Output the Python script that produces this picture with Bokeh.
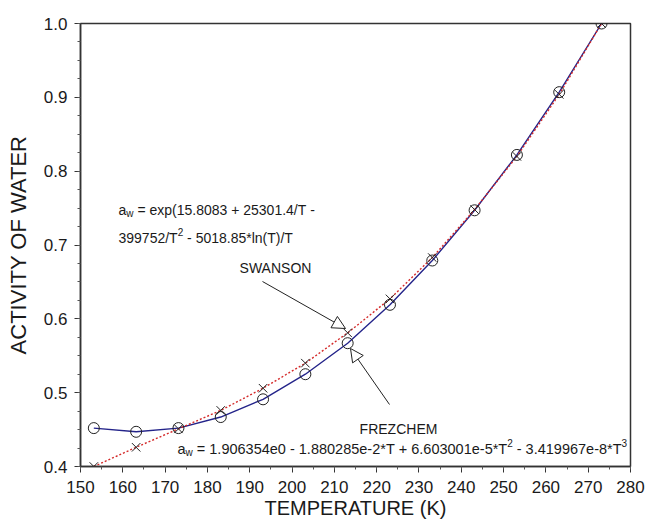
from bokeh.plotting import figure
from bokeh.models import (Label, Arrow, NormalHead, SingleIntervalTicker,
                          Range1d, PrintfTickFormatter)
from bokeh.embed import file_html
from bokeh.resources import INLINE

# ---- data ----
temps = [153.15, 163.15, 173.15, 183.15, 193.15, 203.15, 213.15,
         223.15, 233.15, 243.15, 253.15, 263.15, 273.15]
frezchem = [0.452, 0.447, 0.452, 0.467, 0.491, 0.525, 0.567,
            0.619, 0.679, 0.747, 0.822, 0.907, 1.000]
swanson = [0.400, 0.426, 0.451, 0.476, 0.506, 0.540, 0.581,
           0.627, 0.683, 0.748, 0.820, 0.904, 1.000]
x_ticks = [150, 160, 170, 180, 190, 200, 210, 220, 230, 240, 250, 260, 270, 280]

FONT = "Liberation Sans"
TXT = "#1a1a1a"
NB = "\u00a0"

FIG_W, FIG_H = 647, 525
# frame placement (page pixels) used for annotation placement
FL, FR, FT, FB = 80, 630, 23, 466
X0, X1, Y0, Y1 = 150, 280, 0.4, 1.0


def dx(px):
    return X0 + (px - FL) * (X1 - X0) / (FR - FL)


def dy(py):
    return Y0 + (FB - py) * (Y1 - Y0) / (FB - FT)


W = {' ': 278, '=': 584, 'e': 556, 'x': 500, 'p': 556, '(': 333, ')': 333,
     '.': 278, '+': 584, '/': 278, 'T': 611, '-': 333, '*': 389, 'l': 222,
     'n': 556, 'a': 556, 'w': 722}
for d in "0123456789":
    W[d] = 556


def tw(s, size):
    return sum(W.get(c, 556) for c in s) * size / 1000.0


p = figure(width=FIG_W, height=FIG_H, x_range=Range1d(X0, X1), y_range=Range1d(Y0, Y1),
           output_backend="svg", toolbar_location=None,
           min_border_left=FL, min_border_right=FIG_W - FR, min_border_top=FT,
           min_border_bottom=FIG_H - FB,
           x_axis_label="TEMPERATURE (K)", y_axis_label="ACTIVITY OF WATER")
p.xgrid.visible = False
p.ygrid.visible = False
p.outline_line_color = "#333333"
p.outline_line_width = 1.5
p.background_fill_color = "white"
p.border_fill_color = "white"

p.xaxis.ticker = SingleIntervalTicker(interval=10, num_minor_ticks=2)
p.yaxis.ticker = SingleIntervalTicker(interval=0.1, num_minor_ticks=4)
p.yaxis.formatter = PrintfTickFormatter(format="%.1f")

for ax in (p.xaxis[0], p.yaxis[0]):
    ax.axis_line_color = "#333333"
    ax.axis_line_width = 1.5
    ax.major_tick_line_color = "#333333"
    ax.minor_tick_line_color = "#555555"
    ax.major_tick_in = 0
    ax.major_tick_out = 6
    ax.minor_tick_in = 0
    ax.minor_tick_out = 3
    ax.major_label_text_font = FONT
    ax.major_label_text_font_size = "17px"
    ax.major_label_text_color = TXT
    ax.axis_label_text_font = FONT
    ax.axis_label_text_font_style = "normal"
    ax.axis_label_text_color = TXT

p.xaxis.major_label_standoff = 8
p.xaxis.axis_label_standoff = 1
p.xaxis.axis_label_text_font_size = "20px"
p.yaxis.major_label_standoff = 7
p.yaxis.axis_label_standoff = 10
p.yaxis.axis_label_text_font_size = "22px"

# ---- series ----
p.line(temps, frezchem, line_color="#24248a", line_width=1.4)
p.line(temps, swanson, line_color="#d42a2a", line_width=1.4, line_dash="2 2")
p.scatter(temps, frezchem, marker="circle", size=11, fill_color=None,
          line_color="#222222", line_width=1)
p.scatter(temps, swanson, marker="x", size=12, line_color="#222222", line_width=1)


# ---- rich-text annotations built from pieces ----
def rich(pieces, px0, pyb, size):
    x = px0
    small = round(size * 0.72)
    for text, kind in pieces:
        if kind == "n":
            fs, yb = size, pyb
        elif kind == "sub":
            fs, yb = small, pyb + 4
        else:
            fs, yb = small, pyb - 6
        p.add_layout(Label(x=dx(x), y=dy(yb), text=text.replace(" ", NB),
                           text_font=FONT,
                           text_font_size=f"{fs}px", text_color=TXT,
                           text_baseline="alphabetic", text_align="left"))
        x += tw(text, fs)


FS = 14.5
rich([("a", "n"), ("w", "sub"), (" = exp(15.8083 + 25301.4/T -", "n")], 118, 209, 14)
rich([("399752/T", "n"), ("2", "sup"), (" - 5018.85*ln(T)/T", "n")], 118, 237, 14)
rich([("a", "n"), ("w", "sub"),
      (" = 1.906354e0 - 1.880285e-2*T + 6.603001e-5*T", "n"), ("2", "sup"),
      (" - 3.419967e-8*T", "n"), ("3", "sup")], 177, 448, FS)

p.add_layout(Label(x=dx(275), y=dy(267), text="SWANSON", text_font=FONT,
                   text_font_size="14px", text_color=TXT,
                   text_baseline="alphabetic", text_align="center"))
p.add_layout(Label(x=dx(398), y=dy(428), text="FREZCHEM", text_font=FONT,
                   text_font_size="14px", text_color=TXT,
                   text_baseline="alphabetic", text_align="center"))

head1 = NormalHead(size=13, fill_color="white", line_color="#222222", line_width=1)
p.add_layout(Arrow(end=head1, x_start=dx(262), y_start=dy(281),
                   x_end=dx(345), y_end=dy(328),
                   line_color="#222222", line_width=1))
head2 = NormalHead(size=13, fill_color="white", line_color="#222222", line_width=1)
p.add_layout(Arrow(end=head2, x_start=dx(389), y_start=dy(404),
                   x_end=dx(350), y_end=dy(348),
                   line_color="#222222", line_width=1))

open("out.html", "w").write(file_html(p, INLINE))
